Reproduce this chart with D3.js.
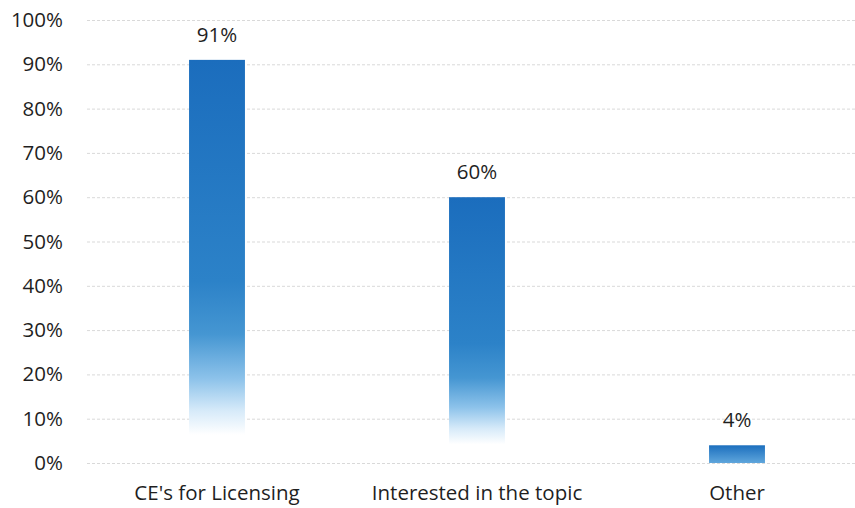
<!DOCTYPE html>
<html>
<head>
<meta charset="utf-8">
<script src="https://cdn.jsdelivr.net/npm/d3@7"></script>
<style>
  html, body { margin: 0; padding: 0; background: #ffffff; }
  svg { display: block; }
  text { font-family: "Open Sans", Lato, sans-serif; fill: #1f1f1f; }
</style>
</head>
<body>
<svg id="chart" width="855" height="508"></svg>
<script>
// Reasons for attending
const categories = ["CE's for Licensing", "Interested in the topic", "Other"];
const values = [91, 60, 4];
const yTicks = [0, 10, 20, 30, 40, 50, 60, 70, 80, 90, 100];

const W = 855, H = 508;
const margin = { top: 20, right: -12, bottom: 45, left: 87 };
const fontSize = 20.5;

const svg = d3.select("#chart");

const x = d3.scaleBand()
  .domain(categories)
  .range([margin.left, W - margin.right])
  .paddingInner(0.785)
  .paddingOuter(0.3925);

const y = d3.scaleLinear()
  .domain([0, 100])
  .range([H - margin.bottom, margin.top]);

// vertical fade toward the base of each bar
const defs = svg.append("defs");
const grad = defs.append("linearGradient")
  .attr("id", "barFade")
  .attr("x1", 0).attr("y1", 0).attr("x2", 0).attr("y2", 1);
[
  [0, "#1b6dbd"],
  [0.55, "#2c82c8"],
  [0.68, "#4596d2"],
  [0.79, "#8cc2ea"],
  [0.87, "#d6eaf9"],
  [0.93, "#ffffff"],
  [1, "#ffffff"]
].forEach(([o, c]) => grad.append("stop").attr("offset", o).attr("stop-color", c));

const gradSmall = defs.append("linearGradient")
  .attr("id", "barFadeSmall")
  .attr("x1", 0).attr("y1", 0).attr("x2", 0).attr("y2", 1);
[
  [0, "#1c6fbe"],
  [1, "#5fa6dc"]
].forEach(([o, c]) => gradSmall.append("stop").attr("offset", o).attr("stop-color", c));

// gridlines and percentage ticks
const gAxis = svg.append("g")
  .attr("transform", `translate(${margin.left},0)`)
  .call(d3.axisLeft(y)
    .tickValues(yTicks)
    .tickSize(-(W - margin.left))
    .tickPadding(24)
    .tickFormat(d => d + "%"));
gAxis.select(".domain").remove();
gAxis.selectAll(".tick line")
  .attr("stroke", "#d9d9d9")
  .attr("stroke-width", 1)
  .attr("stroke-dasharray", "3,2");
gAxis.selectAll(".tick text")
  .attr("font-size", fontSize)
  .attr("fill", "#1f1f1f");

// bars
svg.append("g").selectAll("rect")
  .data(values)
  .join("rect")
  .attr("x", (d, i) => x(categories[i]))
  .attr("width", x.bandwidth())
  .attr("y", d => y(d))
  .attr("height", d => y(0) - y(d))
  .attr("fill", d => (d >= 20 ? "url(#barFade)" : "url(#barFadeSmall)"));

// value labels
svg.append("g").selectAll("text")
  .data(values)
  .join("text")
  .attr("x", (d, i) => x(categories[i]) + x.bandwidth() / 2)
  .attr("y", d => y(d) - 18)
  .attr("text-anchor", "middle")
  .attr("font-size", fontSize)
  .text(d => d + "%");

// category labels
svg.append("g").selectAll("text")
  .data(categories)
  .join("text")
  .attr("x", d => x(d) + x.bandwidth() / 2)
  .attr("y", H - 8)
  .attr("text-anchor", "middle")
  .attr("font-size", fontSize)
  .text(d => d);
</script>
</body>
</html>
